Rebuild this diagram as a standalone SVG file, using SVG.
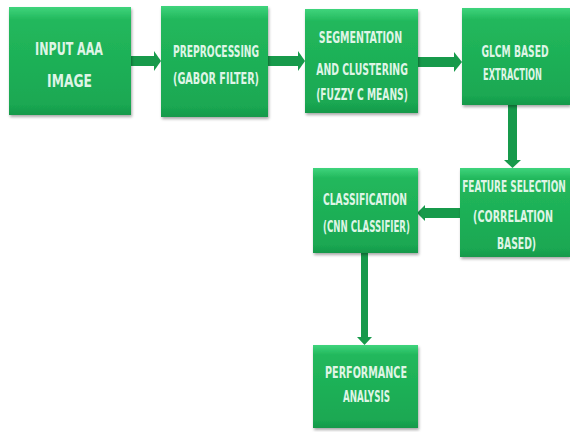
<svg xmlns="http://www.w3.org/2000/svg" width="570" height="432" viewBox="0 0 570 432">
<defs>
<linearGradient id="g" x1="0" y1="0" x2="0" y2="1">
<stop offset="0" stop-color="#3fd47c"/>
<stop offset="0.12" stop-color="#22b85c"/>
<stop offset="0.9" stop-color="#1aa852"/>
<stop offset="1" stop-color="#17994a"/>
</linearGradient>
<filter id="sh" x="-10%" y="-10%" width="125%" height="125%">
<feGaussianBlur in="SourceAlpha" stdDeviation="1.5"/>
<feOffset dx="1" dy="2" result="b"/>
<feComponentTransfer><feFuncA type="linear" slope="0.35"/></feComponentTransfer>
<feMerge><feMergeNode/><feMergeNode in="SourceGraphic"/></feMerge>
</filter>
</defs>
<style>
.box{fill:url(#g);filter:url(#sh)}
.t{font-family:"DejaVu Sans Condensed","DejaVu Sans",sans-serif;font-weight:bold;fill:#dff5e6;text-anchor:middle;font-size:15px}
.big{font-size:18px}
.arr{fill:#179a4b}
</style>
<rect width="570" height="432" fill="#ffffff"/>
<g id="connectors">
<rect class="arr" x="131" y="56" width="24" height="10"/><polygon class="arr" points="154,51 161,61 154,71"/>
<rect class="arr" x="268" y="56" width="31" height="10"/><polygon class="arr" points="298,51 305,61 298,71"/>
<rect class="arr" x="418" y="57" width="37" height="10"/><polygon class="arr" points="454,52 462,62 454,72"/>
<rect class="arr" x="508" y="105" width="9" height="56"/><polygon class="arr" points="504,160 521,160 512.5,168"/>
<rect class="arr" x="424" y="208" width="36" height="10"/><polygon class="arr" points="425,205 417,213 425,221"/>
<rect class="arr" x="361" y="253" width="7" height="85"/><polygon class="arr" points="357,337 372,337 364.5,345"/>
</g>
<g id="n1"><rect class="box" x="9" y="7" width="122" height="108"/>
<text class="t big" transform="translate(69,55) scale(0.7,1)" textLength="97" lengthAdjust="spacingAndGlyphs">INPUT AAA</text>
<text class="t big" transform="translate(69.5,87) scale(0.7,1)" textLength="64" lengthAdjust="spacingAndGlyphs">IMAGE</text></g>
<g id="n2"><rect class="box" x="161" y="6" width="107" height="111"/>
<text class="t" transform="translate(216,57) scale(0.7,1)" textLength="123" lengthAdjust="spacingAndGlyphs">PREPROCESSING</text>
<text class="t" transform="translate(216,84) scale(0.7,1)" textLength="123" lengthAdjust="spacingAndGlyphs">(GABOR FILTER)</text></g>
<g id="n3"><rect class="box" x="305" y="9" width="113" height="104"/>
<text class="t" transform="translate(360.5,43) scale(0.7,1)" textLength="119" lengthAdjust="spacingAndGlyphs">SEGMENTATION</text>
<text class="t" transform="translate(362,75) scale(0.7,1)" textLength="131" lengthAdjust="spacingAndGlyphs">AND CLUSTERING</text>
<text class="t" transform="translate(362,100) scale(0.7,1)" textLength="131" lengthAdjust="spacingAndGlyphs">(FUZZY C MEANS)</text></g>
<g id="n4"><rect class="box" x="462" y="8" width="108" height="97"/>
<text class="t" transform="translate(515,57) scale(0.7,1)" textLength="96" lengthAdjust="spacingAndGlyphs">GLCM BASED</text>
<text class="t" transform="translate(512.5,80) scale(0.7,1)" textLength="84" lengthAdjust="spacingAndGlyphs">EXTRACTION</text></g>
<g id="n5"><rect class="box" x="460" y="168" width="110" height="89"/>
<text class="t" transform="translate(514,192) scale(0.7,1)" textLength="148" lengthAdjust="spacingAndGlyphs">FEATURE SELECTION</text>
<text class="t" transform="translate(513,222) scale(0.7,1)" textLength="114" lengthAdjust="spacingAndGlyphs">(CORRELATION</text>
<text class="t" transform="translate(516.5,249) scale(0.7,1)" textLength="56" lengthAdjust="spacingAndGlyphs">BASED)</text></g>
<g id="n6"><rect class="box" x="313" y="168" width="105" height="85"/>
<text class="t" transform="translate(365,205) scale(0.7,1)" textLength="120" lengthAdjust="spacingAndGlyphs">CLASSIFICATION</text>
<text class="t" transform="translate(366.5,232) scale(0.7,1)" textLength="124" lengthAdjust="spacingAndGlyphs">(CNN CLASSIFIER)</text></g>
<g id="n7"><rect class="box" x="313" y="345" width="105" height="83"/>
<text class="t" transform="translate(366,378) scale(0.7,1)" textLength="117" lengthAdjust="spacingAndGlyphs">PERFORMANCE</text>
<text class="t" transform="translate(366.5,402) scale(0.7,1)" textLength="67" lengthAdjust="spacingAndGlyphs">ANALYSIS</text></g>
</svg>
